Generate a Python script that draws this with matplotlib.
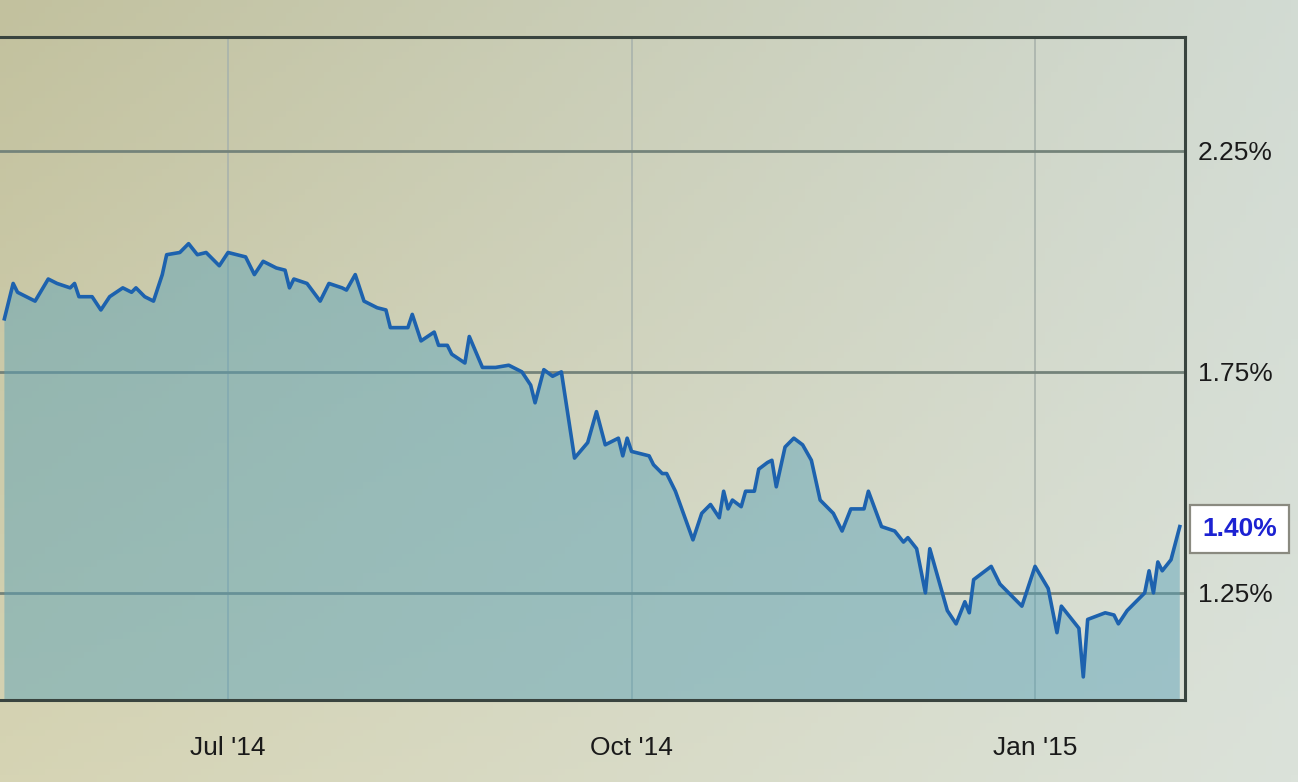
import matplotlib
matplotlib.use('Agg')
import matplotlib.pyplot as plt
from matplotlib.colors import to_rgb
from matplotlib.ticker import FuncFormatter
import numpy as np
import pandas as pd

# ── data ─────────────────────────────────────────────────────────
dates = [
    '2014-05-11', '2014-05-13', '2014-05-14', '2014-05-18', '2014-05-21', '2014-05-23', '2014-05-26', '2014-05-27',
    '2014-05-28', '2014-05-31', '2014-06-02', '2014-06-04', '2014-06-07', '2014-06-09', '2014-06-10', '2014-06-12',
    '2014-06-14', '2014-06-16', '2014-06-17', '2014-06-20', '2014-06-22', '2014-06-24', '2014-06-26', '2014-06-29',
    '2014-07-01', '2014-07-05', '2014-07-07', '2014-07-09', '2014-07-12', '2014-07-14', '2014-07-15', '2014-07-16',
    '2014-07-19', '2014-07-22', '2014-07-24', '2014-07-27', '2014-07-28', '2014-07-30', '2014-08-01', '2014-08-04',
    '2014-08-06', '2014-08-07', '2014-08-11', '2014-08-12', '2014-08-14', '2014-08-17', '2014-08-18', '2014-08-20',
    '2014-08-21', '2014-08-24', '2014-08-25', '2014-08-28', '2014-08-31', '2014-09-03', '2014-09-06', '2014-09-08',
    '2014-09-09', '2014-09-11', '2014-09-13', '2014-09-15', '2014-09-18', '2014-09-21', '2014-09-23', '2014-09-25',
    '2014-09-28', '2014-09-29', '2014-09-30', '2014-10-01', '2014-10-05', '2014-10-06', '2014-10-08', '2014-10-09',
    '2014-10-11', '2014-10-15', '2014-10-17', '2014-10-19', '2014-10-21', '2014-10-22', '2014-10-23', '2014-10-24',
    '2014-10-26', '2014-10-27', '2014-10-29', '2014-10-30', '2014-11-01', '2014-11-02', '2014-11-03', '2014-11-05',
    '2014-11-07', '2014-11-09', '2014-11-11', '2014-11-13', '2014-11-16', '2014-11-18', '2014-11-20', '2014-11-23',
    '2014-11-24', '2014-11-27', '2014-11-30', '2014-12-02', '2014-12-03', '2014-12-05', '2014-12-07', '2014-12-08',
    '2014-12-10', '2014-12-12', '2014-12-14', '2014-12-16', '2014-12-17', '2014-12-18', '2014-12-22', '2014-12-24',
    '2014-12-29', '2015-01-01', '2015-01-04', '2015-01-06', '2015-01-07', '2015-01-11', '2015-01-12', '2015-01-13',
    '2015-01-17', '2015-01-19', '2015-01-20', '2015-01-22', '2015-01-26', '2015-01-27', '2015-01-28', '2015-01-29',
    '2015-01-30', '2015-02-01', '2015-02-03',
]
yields = [
    1.87, 1.95, 1.93, 1.91, 1.96, 1.95, 1.94, 1.95,
    1.92, 1.92, 1.89, 1.92, 1.94, 1.93, 1.94, 1.92,
    1.91, 1.97, 2.015, 2.02, 2.04, 2.015, 2.02, 1.99,
    2.02, 2.01, 1.97, 2.00, 1.985, 1.98, 1.94, 1.96,
    1.95, 1.91, 1.95, 1.94, 1.935, 1.97, 1.91, 1.895,
    1.89, 1.85, 1.85, 1.88, 1.82, 1.84, 1.81, 1.81,
    1.79, 1.77, 1.83, 1.76, 1.76, 1.765, 1.75, 1.72,
    1.68, 1.755, 1.74, 1.75, 1.555, 1.59, 1.66, 1.585,
    1.60, 1.56, 1.60, 1.57, 1.56, 1.54, 1.52, 1.52,
    1.48, 1.37, 1.43, 1.45, 1.42, 1.48, 1.44, 1.46,
    1.445, 1.48, 1.48, 1.53, 1.545, 1.55, 1.49, 1.58,
    1.60, 1.585, 1.55, 1.46, 1.43, 1.39, 1.44, 1.44,
    1.48, 1.40, 1.39, 1.365, 1.375, 1.35, 1.25, 1.35,
    1.28, 1.21, 1.18, 1.23, 1.205, 1.28, 1.31, 1.27,
    1.22, 1.31, 1.26, 1.16, 1.22, 1.17, 1.06, 1.19,
    1.205, 1.20, 1.18, 1.21, 1.25, 1.30, 1.25, 1.32,
    1.30, 1.325, 1.40,
]
y_ticks = [1.25, 1.75, 2.25]
month_ticks = ['2014-07-01', '2014-10-01', '2015-01-01']
month_labels = ["Jul '14", "Oct '14", "Jan '15"]

x = pd.to_datetime(dates)

LINE = '#1d62ae'
FILL = '#5aa2b8'
SPINE = '#39443f'
TXT = '#1a1a1a'

fig = plt.figure(figsize=(12.98, 7.82), dpi=100)

# photo-like background (khaki on the left, pale green-grey on the right)
bg = fig.add_axes([0, 0, 1, 1], zorder=0)
tl, tr = np.array(to_rgb('#c2c19e')), np.array(to_rgb('#d2dbd3'))
bl, br = np.array(to_rgb('#d6d4b4')), np.array(to_rgb('#dbe2da'))
u = np.linspace(0, 1, 200)[None, :, None]
v = np.linspace(0, 1, 120)[:, None, None]
img = (1 - v) * ((1 - u) * tl + u * tr) + v * ((1 - u) * bl + u * br)
bg.imshow(img, aspect='auto', extent=[0, 1, 0, 1], origin='upper')
bg.axis('off')

ax = fig.add_axes([0.0, 0.105, 0.913, 0.848], zorder=1)
ax.set_facecolor('none')

ax.fill_between(x, yields, 0, color=FILL, alpha=0.48, lw=0, zorder=1)
ax.plot(x, yields, color=LINE, lw=2.6, zorder=3, solid_joinstyle='round')

ax.set_xlim(pd.Timestamp('2014-05-10'), pd.Timestamp('2015-02-04 05:00'))
ax.set_ylim(1.008, 2.508)

ax.set_yticks(y_ticks)
ax.yaxis.set_major_formatter(FuncFormatter(lambda v, p: f'{v:.2f}%'))
ax.yaxis.tick_right()
ax.set_xticks(pd.to_datetime(month_ticks))
ax.set_xticklabels(month_labels)

ax.grid(axis='y', color='#74837a', lw=2.0)
ax.grid(axis='x', color='#a9b3ac', lw=1.2)
ax.set_axisbelow(True)

ax.spines['left'].set_visible(False)
for s in ['top', 'right', 'bottom']:
    ax.spines[s].set_color(SPINE)
    ax.spines[s].set_linewidth(2.2)

ax.tick_params(axis='y', length=0, pad=9, labelsize=19, labelcolor=TXT)
ax.tick_params(axis='x', length=0, pad=26, labelsize=19, labelcolor=TXT)
for lab in ax.get_xticklabels() + ax.get_yticklabels():
    lab.set_family('Liberation Sans')

# last value callout
ax.annotate(f'{yields[-1]:.2f}%', xy=(x[-1], yields[-1]), xytext=(16, -2),
            textcoords='offset points', ha='left', va='center',
            fontsize=19, fontweight='bold', color='#1c22d2', family='Liberation Sans',
            bbox=dict(boxstyle='square,pad=0.45', fc='white', ec='#8a8a80', lw=1.6),
            annotation_clip=False, zorder=6)

plt.savefig('out.png', dpi=100)
plt.close()
